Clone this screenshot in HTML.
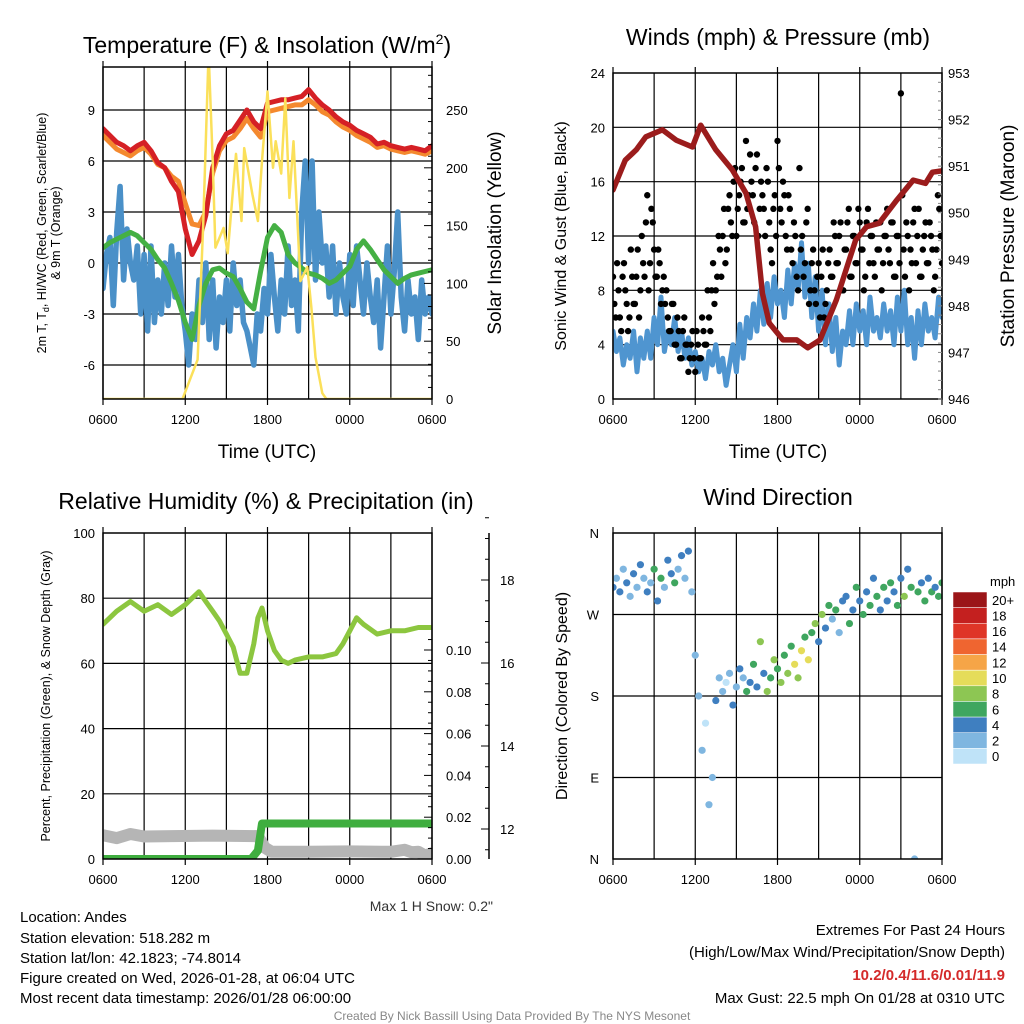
<!DOCTYPE html>
<html><head><meta charset="utf-8"><style>
body{margin:0;background:#fff}
svg{display:block;font-family:"Liberation Sans",sans-serif}
</style></head><body>
<svg id="c" width="1024" height="1024" viewBox="0 0 1024 1024">
<g id="p1"></g>
<g id="p2"></g>
<g id="p3"></g>
<g id="p4"></g>
<g id="txt">
<text x="267" y="53" font-size="23" text-anchor="middle">Temperature (F) &amp; Insolation (W/m<tspan font-size="14" dy="-9">2</tspan><tspan dy="9">)</tspan></text>
<text x="778" y="45" font-size="23" text-anchor="middle">Winds (mph) &amp; Pressure (mb)</text>
<text x="266" y="509" font-size="23" text-anchor="middle">Relative Humidity (%) &amp; Precipitation (in)</text>
<text x="778" y="505" font-size="23" text-anchor="middle">Wind Direction</text>
<text x="267" y="458" font-size="19" text-anchor="middle">Time (UTC)</text>
<text x="778" y="458" font-size="19" text-anchor="middle">Time (UTC)</text>
<text transform="translate(46,233) rotate(-90)" font-size="12.5" text-anchor="middle">2m T, T<tspan font-size="9" dy="3">d</tspan><tspan dy="-3">, HI/WC (Red, Green, Scarlet/Blue)</tspan></text>
<text transform="translate(60,233) rotate(-90)" font-size="12.5" text-anchor="middle">&amp; 9m T (Orange)</text>
<text transform="translate(501,233) rotate(-90)" font-size="19" text-anchor="middle">Solar Insolation (Yellow)</text>
<text transform="translate(566,236) rotate(-90)" font-size="16" text-anchor="middle">Sonic Wind &amp; Gust (Blue, Black)</text>
<text transform="translate(1014,236) rotate(-90)" font-size="19" text-anchor="middle">Station Pressure (Maroon)</text>
<text transform="translate(50,696) rotate(-90)" font-size="12.5" text-anchor="middle">Percent, Precipitation (Green), &amp; Snow Depth (Gray)</text>
<text transform="translate(567,696) rotate(-90)" font-size="16" text-anchor="middle">Direction (Colored By Speed)</text>
<text x="493" y="911" font-size="14" text-anchor="end" fill="#333">Max 1 H Snow: 0.2"</text>
<g font-size="15">
<text x="20" y="922">Location: Andes</text>
<text x="20" y="943">Station elevation: 518.282 m</text>
<text x="20" y="963">Station lat/lon: 42.1823; -74.8014</text>
<text x="20" y="983">Figure created on Wed, 2026-01-28, at 06:04 UTC</text>
<text x="20" y="1003">Most recent data timestamp: 2026/01/28 06:00:00</text>
</g>
<g font-size="15" text-anchor="end">
<text x="1005" y="935">Extremes For Past 24 Hours</text>
<text x="1005" y="957">(High/Low/Max Wind/Precipitation/Snow Depth)</text>
<text x="1005" y="980" fill="#d42a2a" font-weight="bold">10.2/0.4/11.6/0.01/11.9</text>
<text x="1005" y="1003">Max Gust: 22.5 mph On 01/28 at 0310 UTC</text>
</g>
<text x="512" y="1020" font-size="12" fill="#888" text-anchor="middle">Created By Nick Bassill Using Data Provided By The NYS Mesonet</text>
</g>
</svg>
<script>
// ---------- data ----------
const hourLabels=["0600","1200","1800","0000","0600"];
const halfHours=[];for(let i=0;i<=48;i++)halfHours.push(i*0.5);
const qHours=[];for(let i=0;i<=96;i++)qHours.push(i*0.25);
const gustHours=[];for(let i=0;i<=120;i++)gustHours.push(i*0.2);
const gustHours2=[];for(let i=0;i<120;i++)gustHours2.push(i*0.2+0.1);
const tempRed=[7.9,7.5,7.1,6.9,6.6,6.9,7.1,6.6,5.9,5.6,4.8,4.2,2.0,0.5,1.3,2.8,5.6,6.9,7.6,7.8,8.4,9.0,8.3,7.9,9.4,9.5,9.6,9.6,9.7,9.8,10.2,9.7,9.3,9.0,8.6,8.3,8.1,7.8,7.6,7.4,7.0,7.1,6.9,6.8,6.7,6.8,6.7,6.6,6.9];
const tempOrange=[7.5,7.1,6.7,6.5,6.3,6.6,6.8,6.4,5.8,5.6,5.1,4.8,3.5,2.3,2.2,3.0,5.3,6.6,7.2,7.4,7.9,8.5,7.9,7.4,8.9,9.0,9.1,9.2,9.3,9.3,9.6,9.3,8.9,8.7,8.3,8.0,7.8,7.5,7.3,7.1,6.8,6.9,6.7,6.6,6.5,6.6,6.5,6.4,6.6];
const tempDew=[0.9,1.2,1.4,1.6,1.8,1.6,1.2,0.8,0.2,-0.3,-1.2,-2.2,-3.5,-4.5,-2.5,-1.2,-0.4,-0.3,-0.6,-0.8,-1.5,-2.3,-2.7,-0.5,1.5,2.2,1.8,0.5,0.0,-0.3,-0.6,-0.7,-0.9,-1.2,-1.0,-0.6,-0.2,0.8,1.3,0.8,0.2,-0.4,-0.8,-1.2,-0.9,-0.7,-0.6,-0.5,-0.4];
const windChill=[-1.5,0.5,1.5,-2.5,1.8,4.5,-1,2,0,-1,1,-3,0.5,-4,1,-3.5,-1,-3,0,-2.5,1,-2,0.5,-2.5,-4,-6,-3,-4.5,-1,-3.5,0,-4.5,-1,-5,-2,-3.5,-1,-4,0,-2.5,-1,-3.5,-4,-5,-6,-3,-4,-1.5,-3,0.5,-2,-4,-1,-3,1,-2.5,-1,-4,3,6,0,6,-1,3,0,1,-2,1,-3,0,-2,-3,0.5,-2.5,1,-1,-3,0,-2,-3.5,-1,-5,-2,1,-3,-0.5,3,-2,-4,-1,-3,-2,-4.5,-1,-3,-2,-3];
const solarHours=[0,5.8,6.9,7.3,7.7,8.0,8.2,8.8,9.1,9.7,10.1,10.3,10.9,11.3,11.6,12.0,12.4,12.6,13.0,13.3,13.6,13.9,14.4,14.9,15.2,15.5,16.0,16.3,24];
const solarVals=[0,0,34,148,300,206,131,148,126,212,154,217,177,154,206,266,200,223,195,260,174,223,102,114,79,36,5,0,0];
const pressHours=[0,0.9,1.7,2.4,3.6,4.6,5.8,6.4,7.5,8.7,9.7,10.4,10.9,11.4,12.4,13.4,14.2,15.1,16.3,17.7,18.5,19.4,20.7,21.9,22.8,23.3,24];
const pressVals=[950.49,951.13,951.35,951.63,951.78,951.56,951.41,951.88,951.35,950.92,950.42,949.7,948.27,947.63,947.27,947.27,947.1,947.27,948.13,949.41,949.7,949.77,950.27,950.7,950.63,950.87,950.9];
const windVals=[5,3.5,4.5,2.5,4,3,5,2,4.5,3,5,3,6,4,7.5,3.5,5,4,6,3.5,5,3,4.5,2.5,3.5,2,3,1.5,3.5,2.5,4,2,3,1,2.5,4,2,5.5,3,6,4.5,7,5,8,5.5,8.5,6,9,7,8,6,9.5,7,10,8,11.5,7.5,10,6,9,5,8,4,7,3.5,6,2.5,5,4,6.5,4,7,5,6.5,4,7.5,5,6,4.5,7,5,6.5,4,7.5,5,8,4,6,3,6.5,4,7,5,6,4.5,7.5,6];
const gustVals=[9,6,8,5,10,7,6,9,7,11,8,10,13,8,14,11,9,10,8,7,6,5,7,4,5,3,6,4,3,5,2,4,3,5,4,6,8,7,9,11,12,10,14,13,16,12,15,17,13,14,18,15,17,12,16,14,17,13,10,15,19,14,16,12,15,11,13,9,17,12,10,14,8,11,7,10,9,6,8,11,9,12,10,13,8,11,14,9,12,10,13,11,9,14,12,10,13,11,8,12,14,10,13,9,12,22.5,11,13,8,10,14,12,9,11,13,10,12,8,11,14,10];
const gustVals2=[7,10,6,9,8,5,11,7,9,6,12,9,15,10,13,9,11,7,9,8,5,7,4,6,3,5,4,2,4,3,5,3,6,4,8,5,10,8,12,9,14,11,15,12,17,14,16,13,19,15,16,13,18,14,15,12,16,11,14,12,17,13,15,11,14,10,12,8,11,9,13,7,10,8,9,6,11,7,10,9,13,10,12,8,11,13,9,12,10,14,11,8,13,10,12,9,11,13,10,12,11,13,9,12,10,15,9,12,11,13,10,14,9,12,10,13,11,9,15,12];
const rhHours=[0,1,2,3,4,5,6,6.5,7,7.5,8,8.5,9,9.5,10,10.5,11,11.3,11.6,12,12.5,13,13.5,14,15,16,17,17.5,18,18.5,19,20,21,22,23,24];
const rhVals=[72,76,79,76,78,75,78,80,82,79,76,73,69,65,57,57,66,74,77,70,64,61,60,61,62,62,63,66,70,74,72,69,70,70,71,71];
const precipHours=[0,10.8,11.3,11.6,24];
const precipVals=[0,0,0.004,0.017,0.017];
const snowHours=[0,1,2,3,5,8,11.3,11.8,12.3,15,18,21,22,22.5,23,23.5,24];
const snowVals=[11.85,11.78,11.88,11.82,11.83,11.84,11.83,11.55,11.45,11.45,11.46,11.45,11.5,11.44,11.45,11.36,11.42];
const dirVals=[300,310,295,320,305,290,315,300,325,310,295,305,320,285,310,300,330,315,305,320,335,310,340,295,225,180,120,150,60,90,175,200,185,195,205,170,190,210,200,185,195,215,190,240,205,185,200,220,210,195,225,205,235,215,200,230,245,220,250,260,240,270,255,280,265,275,250,285,290,260,275,300,285,270,295,280,310,290,275,300,285,305,295,280,310,290,320,300,0,295,305,285,310,295,300,290,305];
const cbLabels=["20+","18","16","14","12","10","8","6","4","2","0"];
const cbColors=["#9b1518","#c4201f","#df3527","#ef6530","#f6a547","#e5dc5a","#8dc653","#3fa65f","#3f7fc0","#7fb6e0","#bfe3f8"];

// ---------- helpers ----------
const NS="http://www.w3.org/2000/svg";
function mk(parent,tag,attrs){const e=document.createElementNS(NS,tag);for(const k in attrs)e.setAttribute(k,attrs[k]);parent.appendChild(e);return e;}
function lin(d0,d1,r0,r1){return v=>r0+(v-d0)/(d1-d0)*(r1-r0);}
function pathD(xs,ys,fx,fy){return xs.map((x,i)=>(i?"L":"M")+fx(x).toFixed(1)+","+fy(ys[i]).toFixed(1)).join("");}
function frame(g,x0,y0,x1,y1,fx,yTicks,fy,id){
  const clip=mk(document.querySelector("svg"),"clipPath",{id:id});
  mk(clip,"rect",{x:x0,y:y0,width:x1-x0,height:y1-y0});
  for(let h=0;h<=24;h+=3){const l=mk(g,"line",{x1:fx(h),x2:fx(h),y1:y0,y2:y1,stroke:"#000","stroke-width":1.2});
    
    }
  yTicks.forEach(v=>{const l=mk(g,"line",{x1:x0,x2:x1,y1:fy(v),y2:fy(v),stroke:"#000","stroke-width":1.2});
    
    });
  hourLabels.forEach((t,i)=>{const tx=mk(g,"text",{x:fx(i*6),y:y1+25,"font-size":13,"text-anchor":"middle"});tx.textContent=t;
    
    
    mk(g,"line",{x1:fx(i*6),x2:fx(i*6),y1:y1,y2:y1+6,stroke:"#000","stroke-width":1.2});
    mk(g,"line",{x1:fx(i*6),x2:fx(i*6),y1:y0,y2:y0-6,stroke:"#000","stroke-width":1.2});});
}
function border(g,x0,y0,x1,y1){const r=mk(g,"rect",{x:x0,y:y0,width:x1-x0,height:y1-y0,fill:"none",stroke:"#000","stroke-width":1.5});
  
  }
function series(g,xs,ys,fx,fy,color,w,clip,name){const p=mk(g,"path",{d:pathD(xs,ys,fx,fy),fill:"none",stroke:color,"stroke-width":w,"stroke-linejoin":"round","stroke-linecap":"round","clip-path":"url(#"+clip+")"});
  
  return p;}
function ylabels(g,vals,fy,x,anchor,fmt){vals.forEach(v=>{const t=mk(g,"text",{x:x,y:fy(v)+5,"font-size":13,"text-anchor":anchor});t.textContent=fmt?fmt(v):v;
  
  });}

// ---------- panel 1 ----------
{const g=document.getElementById("p1");const X0=103,X1=432,Y0=67,Y1=399;
 const fx=lin(0,24,X0,X1),fy=lin(0,9,263,110),fs=lin(0,250,399,110);
 frame(g,X0,Y0,X1,Y1,fx,[9,6,3,0,-3,-6],fy,"c1");
 series(g,qHours,windChill,fx,fy,"#4a90c8",5.5,"c1","wind-chill-line");
 series(g,halfHours,tempDew,fx,fy,"#45b044",5,"c1","dewpoint-line");
 series(g,halfHours,tempOrange,fx,fy,"#f4892e",5,"c1","9m-temp-line");
 series(g,halfHours,tempRed,fx,fy,"#d52025",5,"c1","2m-temp-line");
 series(g,solarHours,solarVals,fx,fs,"#fbe05a",2.5,"c1","solar-line");
 border(g,X0,Y0,X1,Y1);
 ylabels(g,[9,6,3,0,-3,-6],fy,X0-8,"end");
 ylabels(g,[0,50,100,150,200,250],fs,X1+14,"start");
 for(let v=0;v<=280;v+=10){mk(g,"line",{x1:X1,x2:X1-(v%50?4:8),y1:fs(v),y2:fs(v),stroke:"#000"});}
}
// ---------- panel 2 ----------
{const g=document.getElementById("p2");const X0=613,X1=942,Y0=73,Y1=399;
 const fx=lin(0,24,X0,X1),fy=lin(0,24,399,73),fp=lin(946,953,399,73);
 frame(g,X0,Y0,X1,Y1,fx,[20,16,12,8,4],fy,"c2");
 series(g,qHours,windVals,fx,fy,"#4f95d0",5,"c2","wind-speed-line");
 gustVals.forEach((v,i)=>{const c=mk(g,"circle",{cx:fx(gustHours[i]),cy:fy(v),r:3.2,fill:"#000","clip-path":"url(#c2)"});
   
   });
 gustVals2.forEach((v,i)=>{const c=mk(g,"circle",{cx:fx(gustHours2[i]),cy:fy(v),r:3.2,fill:"#000","clip-path":"url(#c2)"});
   
   });
 series(g,pressHours,pressVals,fx,fp,"#9b1c1c",5.5,"c2","pressure-line");
 border(g,X0,Y0,X1,Y1);
 ylabels(g,[24,20,16,12,8,4,0],fy,X0-8,"end");
 ylabels(g,[953,952,951,950,949,948,947,946],fp,X1+6,"start");
 for(let v=946;v<=953;v+=0.2){mk(g,"line",{x1:X1,x2:X1-4,y1:fp(v),y2:fp(v),stroke:"#888"});}
}
// ---------- panel 3 ----------
{const g=document.getElementById("p3");const X0=103,X1=432,Y0=533,Y1=859;
 const fx=lin(0,24,X0,X1),fy=lin(0,100,859,533),fpr=lin(0,0.1,859,650),fsn=lin(12,14,829,746);
 frame(g,X0,Y0,X1,Y1,fx,[20,40,60,80],fy,"c3");
 series(g,snowHours,snowVals,fx,fsn,"#b5b5b5",12,"c3","snow-depth-line");
 series(g,rhHours,rhVals,fx,fy,"#8cc63f",5,"c3","humidity-line");
 series(g,precipHours,precipVals,fx,fpr,"#3fae3f",8,"c3","precip-line");
 border(g,X0,Y0,X1,Y1);
 ylabels(g,[100,80,60,40,20,0],fy,X0-8,"end");
 ylabels(g,[0,0.02,0.04,0.06,0.08,0.1],fpr,X1+14,"start",v=>v.toFixed(2));
 for(let v=0;v<=0.11;v+=0.005){mk(g,"line",{x1:X1,x2:X1-(Math.round(v*1000)%20?4:8),y1:fpr(v),y2:fpr(v),stroke:"#000"});}
 const ax=mk(g,"line",{x1:489,x2:489,y1:Y0,y2:Y1,stroke:"#000","stroke-width":1.5});
 
 
 [12,14,16,18].forEach(v=>{mk(g,"line",{x1:489,x2:481,y1:fsn(v),y2:fsn(v),stroke:"#000"});});
 for(let v=11.5;v<=19.5;v+=0.5){mk(g,"line",{x1:489,x2:485,y1:fsn(v),y2:fsn(v),stroke:"#000"});}
 ylabels(g,[12,14,16,18],fsn,500,"start");
}
// ---------- panel 4 ----------
{const g=document.getElementById("p4");const X0=613,X1=942,Y0=533,Y1=859;
 const fx=lin(0,24,X0,X1),fd=lin(0,360,859,533);
 frame(g,X0,Y0,X1,Y1,fx,[90,180,270],fd,"c4");
 function col(s){let b=Math.min(10,Math.floor(s/2));return cbColors[10-b];}
 dirVals.forEach((d,i)=>{const c=mk(g,"circle",{cx:fx(qHours[i]),cy:fd(d),r:3.6,fill:col(windVals[i]),"clip-path":"url(#c4)"});
   
   });
 border(g,X0,Y0,X1,Y1);
 const dl=["N","E","S","W","N"];
 dl.forEach((t,i)=>{const tx=mk(g,"text",{x:X0-14,y:fd(i*90)+5,"font-size":13,"text-anchor":"end"});tx.textContent=t;
   
   });
 const cb=mk(g,"g",{});
 
 
 const h=172/11;
 cbColors.forEach((c,i)=>{mk(cb,"rect",{x:953,y:592+i*h,width:34,height:h,fill:c,stroke:"#fff","stroke-width":0.5});
   const t=mk(cb,"text",{x:992,y:592+i*h+h/2+5,"font-size":13});t.textContent=cbLabels[i];});
 const m=mk(cb,"text",{x:990,y:586,"font-size":13});m.textContent="mph";
}
</script>
</body></html>
